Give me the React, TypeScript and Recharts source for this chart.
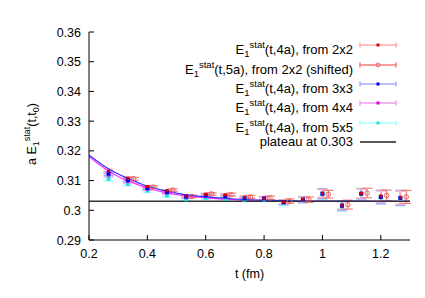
import React from 'react';
import {
  ComposedChart,
  Scatter,
  Line,
  ErrorBar,
  XAxis,
  YAxis,
  ReferenceLine,
} from 'recharts';

// time slices (fm) and the shifted t0=5a slices
const tValues = [0.267, 0.333, 0.4, 0.467, 0.533, 0.6, 0.667, 0.733, 0.8, 0.867, 0.933, 1.0, 1.067, 1.133, 1.2, 1.267];
const tShifted = [0.353, 0.42, 0.487, 0.553, 0.62, 0.687, 0.753, 0.82, 0.887, 0.953, 1.02, 1.087, 1.153, 1.22, 1.287];

const e2x2 = [0.3132, 0.3108, 0.308, 0.3066, 0.3048, 0.3054, 0.3052, 0.3044, 0.304, 0.3028, 0.3037, 0.3057, 0.3017, 0.3057, 0.3048, 0.3043];
const err2x2 = [0.0006, 0.0005, 0.0004, 0.0004, 0.0004, 0.0004, 0.0004, 0.0005, 0.0006, 0.0007, 0.0009, 0.0013, 0.0013, 0.0016, 0.002, 0.0022];
const e2x2s = [0.3106, 0.3078, 0.3068, 0.3047, 0.3055, 0.3053, 0.3045, 0.3042, 0.3031, 0.3036, 0.3054, 0.3019, 0.3058, 0.305, 0.3045];
const err2x2s = [0.0005, 0.0004, 0.0004, 0.0004, 0.0004, 0.0005, 0.0005, 0.0006, 0.0007, 0.0009, 0.0013, 0.0015, 0.0016, 0.0018, 0.0022];
const e3x3 = [0.3124, 0.3102, 0.3075, 0.3062, 0.3046, 0.305, 0.3047, 0.304, 0.304, 0.3027, 0.3036, 0.3056, 0.3016, 0.3056, 0.3045, 0.3042];
const err3x3 = [0.0006, 0.0005, 0.0004, 0.0004, 0.0004, 0.0004, 0.0005, 0.0005, 0.0006, 0.0007, 0.001, 0.0016, 0.0015, 0.0017, 0.0022, 0.0025];
const e4x4 = [0.3118, 0.3097, 0.3071, 0.3058, 0.3043, 0.3047, 0.3044, 0.3039, 0.3038, 0.3026, 0.3036, 0.3055, 0.3014, 0.3056, 0.3044, 0.3041];
const err4x4 = [0.0006, 0.0005, 0.0004, 0.0004, 0.0004, 0.0004, 0.0005, 0.0005, 0.0006, 0.0007, 0.001, 0.0016, 0.0015, 0.0017, 0.0022, 0.0025];
const e5x5 = [0.3106, 0.3089, 0.3066, 0.305, 0.3037, 0.3042, 0.3039, 0.3036, 0.3036, 0.3024, 0.3035, 0.3054, 0.3012, 0.3055, 0.3043, 0.304];
const err5x5 = [0.0007, 0.0006, 0.0005, 0.0005, 0.0005, 0.0005, 0.0005, 0.0006, 0.0007, 0.0008, 0.0011, 0.0017, 0.0016, 0.0018, 0.0022, 0.0025];

// fit curves
const tFit = [0.2, 0.25, 0.3, 0.35, 0.4, 0.45, 0.5, 0.55, 0.6, 0.7, 0.8, 0.9, 1.0, 1.1, 1.2, 1.3];
const fit3x3 = [0.3186, 0.315, 0.3122, 0.31, 0.3081, 0.3068, 0.3058, 0.305, 0.3045, 0.3038, 0.3034, 0.3032, 0.3031, 0.3031, 0.303, 0.303];
const fit4x4 = [0.3181, 0.3143, 0.3114, 0.3093, 0.3075, 0.3062, 0.3053, 0.3047, 0.3042, 0.3036, 0.3033, 0.3031, 0.303, 0.303, 0.303, 0.303];

const plateau = 0.303;

const xTicks = [0.2, 0.4, 0.6, 0.8, 1, 1.2];
const yTicks = [0.29, 0.3, 0.31, 0.32, 0.33, 0.34, 0.35, 0.36];

const FONT = '"Liberation Sans", Arial, sans-serif';

const rows = (ts: number[], vs: number[], es: number[]) =>
  ts.map((t, i) => ({ t, v: vs[i], e: es[i] }));
const fitRows = (vs: number[]) => tFit.map((t, i) => ({ t, v: vs[i] }));

const fmt = (v: number) => String(Number(v.toFixed(2)));

const BottomTick = (p: any) => (
  <g>
    <line x1={p.x} x2={p.x} y1={p.y} y2={p.y - 5} stroke="#000" />
    <text x={p.x} y={p.y + 17.5} textAnchor="middle" fontSize={12.5} fontFamily={FONT} fill="#000">
      {fmt(p.payload.value)}
    </text>
  </g>
);
const TopTick = (p: any) => <line x1={p.x} x2={p.x} y1={p.y} y2={p.y + 5} stroke="#000" />;
const LeftTick = (p: any) => (
  <g>
    <line x1={p.x} x2={p.x + 5} y1={p.y} y2={p.y} stroke="#000" />
    <text x={p.x - 8} y={p.y + 4.5} textAnchor="end" fontSize={12.5} fontFamily={FONT} fill="#000">
      {fmt(p.payload.value)}
    </text>
  </g>
);
const RightTick = (p: any) => <line x1={p.x} x2={p.x - 5} y1={p.y} y2={p.y} stroke="#000" />;

const YLabel = () => (
  <text transform="translate(35.5,134) rotate(-90)" textAnchor="middle" fontSize={12.5} fontFamily={FONT} fill="#000">
    a E
    <tspan dy={3} fontSize={9}>1</tspan>
    <tspan dy={-9} fontSize={9}>stat</tspan>
    <tspan dy={6}>(t,t</tspan>
    <tspan dy={3} fontSize={9}>0</tspan>
    <tspan dy={-3}>)</tspan>
  </text>
);

const XLabel = (p: any) => (
  <text x={p.viewBox.x + p.viewBox.width / 2} y={p.viewBox.y + 38} textAnchor="middle" fontSize={12.5} fontFamily={FONT} fill="#000">
    t (fm)
  </text>
);

const square = (fill: string, s: number) => (p: any) =>
  <rect x={p.cx - s / 2} y={p.cy - s / 2} width={s} height={s} fill={fill} />;
const ring = (stroke: string) => (p: any) =>
  <circle cx={p.cx} cy={p.cy} r={2.3} fill="none" stroke={stroke} strokeWidth={1} />;

const legendItems = [
  { label: '(t,4a), from 2x2', bar: '#ffaaaa', mark: 'dot', color: '#dd0000' },
  { label: '(t,5a), from 2x2 (shifted)', bar: '#f47a7a', mark: 'ring', color: '#f06060' },
  { label: '(t,4a), from 3x3', bar: '#a8a8ff', mark: 'dot', color: '#0000ee' },
  { label: '(t,4a), from 4x4', bar: '#f29cf2', mark: 'dot', color: '#dd00dd' },
  { label: '(t,4a), from 5x5', bar: '#a8ffff', mark: 'dot', color: '#22dddd' },
];

const Legend = () => (
  <div style={{ position: 'absolute', left: 0, top: 35.3, fontFamily: FONT, fontSize: 13 }}>
    {legendItems.map((it) => (
      <div key={it.label} style={{ position: 'relative', height: 19.4 }}>
        <div style={{ position: 'absolute', right: -353, width: 300, textAlign: 'right', lineHeight: '19.4px', whiteSpace: 'nowrap' }}>
          E<sub style={{ fontSize: 9.5, verticalAlign: -3 }}>1</sub>
          <sup style={{ fontSize: 9.5, verticalAlign: 6 }}>stat</sup>
          {it.label}
        </div>
        <svg style={{ position: 'absolute', left: 359, top: 0 }} width={38} height={19.4}>
          <line x1={1} x2={37} y1={10} y2={10} stroke={it.bar} strokeWidth={1.5} />
          <line x1={1} x2={1} y1={7.5} y2={12.5} stroke={it.bar} strokeWidth={1.5} />
          <line x1={37} x2={37} y1={7.5} y2={12.5} stroke={it.bar} strokeWidth={1.5} />
          {it.mark === 'ring' ? (
            <circle cx={19} cy={10} r={2} fill="none" stroke={it.color} />
          ) : (
            <rect x={17.5} y={8.5} width={3} height={3} fill={it.color} />
          )}
        </svg>
      </div>
    ))}
    <div style={{ position: 'relative', height: 19.4 }}>
      <div style={{ position: 'absolute', right: -353, width: 300, textAlign: 'right', lineHeight: '19.4px', whiteSpace: 'nowrap' }}>
        plateau at 0.303
      </div>
      <svg style={{ position: 'absolute', left: 359, top: 0 }} width={38} height={19.4}>
        <line x1={1} x2={37} y1={10} y2={10} stroke="#222" strokeWidth={1.5} />
      </svg>
    </div>
  </div>
);

export default function App() {
  return (
    <div style={{ position: 'absolute', left: 0, top: 0, width: 425, height: 298, background: '#fff' }}>
      <ComposedChart width={425} height={298} margin={{ top: 32, right: 15, bottom: 28, left: 29 }}>
        <XAxis xAxisId="b" type="number" dataKey="t" domain={[0.2, 1.3]} ticks={xTicks} allowDataOverflow
          tickSize={0} tickMargin={0} tick={<BottomTick />} axisLine={{ stroke: '#000' }} height={30}
          label={<XLabel />} />
        <XAxis xAxisId="t" orientation="top" type="number" dataKey="t" domain={[0.2, 1.3]} ticks={xTicks} allowDataOverflow
          tickSize={0} tickMargin={0} tick={<TopTick />} axisLine={{ stroke: '#000' }} height={0} />
        <YAxis yAxisId="l" type="number" dataKey="v" domain={[0.29, 0.36]} ticks={yTicks} allowDataOverflow
          tickSize={0} tickMargin={0} tick={<LeftTick />} axisLine={{ stroke: '#000' }} width={60} />
        <YAxis yAxisId="r" orientation="right" type="number" dataKey="v" domain={[0.29, 0.36]} ticks={yTicks} allowDataOverflow
          tickSize={0} tickMargin={0} tick={<RightTick />} axisLine={{ stroke: '#000' }} width={0} />

        <Scatter xAxisId="b" yAxisId="l" data={rows(tValues, e5x5, err5x5)} shape={square('#22dddd', 4)} isAnimationActive={false}>
          <ErrorBar dataKey="e" direction="y" width={5} stroke="#a8ffff" strokeWidth={1.5} />
        </Scatter>
        <Scatter xAxisId="b" yAxisId="l" data={rows(tValues, e4x4, err4x4)} shape={square('#dd00dd', 3)} isAnimationActive={false}>
          <ErrorBar dataKey="e" direction="y" width={5} stroke="#f29cf2" strokeWidth={1.2} />
        </Scatter>
        <Scatter xAxisId="b" yAxisId="l" data={rows(tValues, e3x3, err3x3)} shape={square('#0000ee', 4)} isAnimationActive={false}>
          <ErrorBar dataKey="e" direction="y" width={5} stroke="#a8a8ff" strokeWidth={1.5} />
        </Scatter>
        <Scatter xAxisId="b" yAxisId="l" data={rows(tValues, e2x2, err2x2)} shape={square('#cc0000', 3)} isAnimationActive={false}>
          <ErrorBar dataKey="e" direction="y" width={5} stroke="#ffaaaa" strokeWidth={1.2} />
        </Scatter>
        <Scatter xAxisId="b" yAxisId="l" data={rows(tShifted, e2x2s, err2x2s)} shape={ring('#f06060')} isAnimationActive={false}>
          <ErrorBar dataKey="e" direction="y" width={5} stroke="#f47a7a" strokeWidth={1.2} />
        </Scatter>

        <Line xAxisId="b" yAxisId="l" data={fitRows(fit4x4)} dataKey="v" type="monotone" stroke="#ff33ff" strokeWidth={1.2} dot={false} isAnimationActive={false} />
        <Line xAxisId="b" yAxisId="l" data={fitRows(fit3x3)} dataKey="v" type="monotone" stroke="#3333ff" strokeWidth={1.2} dot={false} isAnimationActive={false} />
        <ReferenceLine xAxisId="b" yAxisId="l" y={plateau} stroke="#333" strokeWidth={1.5} />
      </ComposedChart>
      <svg style={{ position: 'absolute', left: 0, top: 0, pointerEvents: 'none' }} width={70} height={298}>
        <YLabel />
      </svg>
      <Legend />
    </div>
  );
}
